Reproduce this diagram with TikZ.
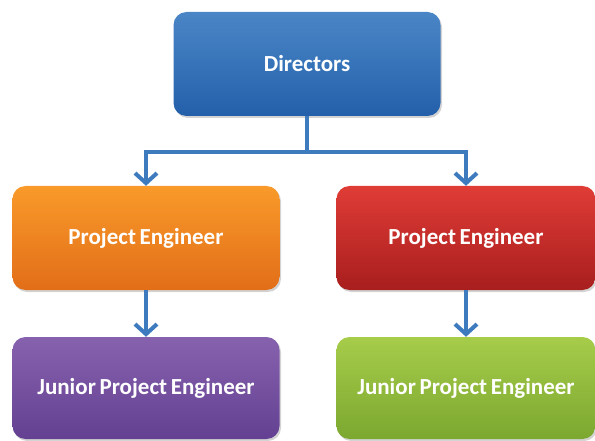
\documentclass[tikz,border=0pt]{standalone}
\usepackage{fontspec}
\setmainfont{Carlito}
\usetikzlibrary{positioning, shadows, arrows.meta}

\definecolor{dirtop}{RGB}{74,134,198}
\definecolor{dirbot}{RGB}{36,96,170}
\definecolor{orgtop}{RGB}{249,154,42}
\definecolor{orgbot}{RGB}{226,110,24}
\definecolor{redtop}{RGB}{224,60,54}
\definecolor{redbot}{RGB}{168,30,30}
\definecolor{purtop}{RGB}{134,98,174}
\definecolor{purbot}{RGB}{100,64,146}
\definecolor{grntop}{RGB}{166,204,74}
\definecolor{grnbot}{RGB}{124,168,48}
\definecolor{connblue}{RGB}{62,122,190}

\newcommand{\postfont}{\fontsize{23}{27}\selectfont\bfseries\spaceskip=0.16em\relax}

\tikzset{
    post/.style={rounded corners=13pt, minimum height=104pt, inner sep=0pt,
        text=white, font=\postfont,
        drop shadow={opacity=0.35, shadow xshift=1.5pt, shadow yshift=-2pt}},
    link/.style={connblue, line width=4pt},
    linkarrow/.style={link, -{Straight Barb[length=10pt, width=22pt, line width=4pt]}}
}

\begin{document}
\begin{tikzpicture}[x=1pt, y=1pt]
            \useasboundingbox (0,0) rectangle (595,440);

            \node[post, minimum width=267pt, top color=dirtop, bottom color=dirbot] (dir) at (307,376) {Directors};
            \node[post, minimum width=267pt, top color=orgtop, bottom color=orgbot] (pe1) at (146,202) {Project Engineer};
            \node[post, minimum width=259pt, top color=redtop, bottom color=redbot] (pe2) at (466,202) {Project Engineer};
            \node[post, minimum width=267pt, minimum height=102pt, top color=purtop, bottom color=purbot] (jpe1) at (146,52) {Junior Project Engineer};
            \node[post, minimum width=259pt, minimum height=102pt, top color=grntop, bottom color=grnbot] (jpe2) at (466,52) {Junior Project Engineer};

            % Draw connectors
            \coordinate (split) at (307,288);
            \draw[link] (dir.south) -- (split);
            \draw[linkarrow] (split) -| (pe1.north);
            \draw[linkarrow] (split) -| (pe2.north);
            \draw[linkarrow] (pe1.south) -- (jpe1.north);
            \draw[linkarrow] (pe2.south) -- (jpe2.north);
        \end{tikzpicture}
\end{document}
